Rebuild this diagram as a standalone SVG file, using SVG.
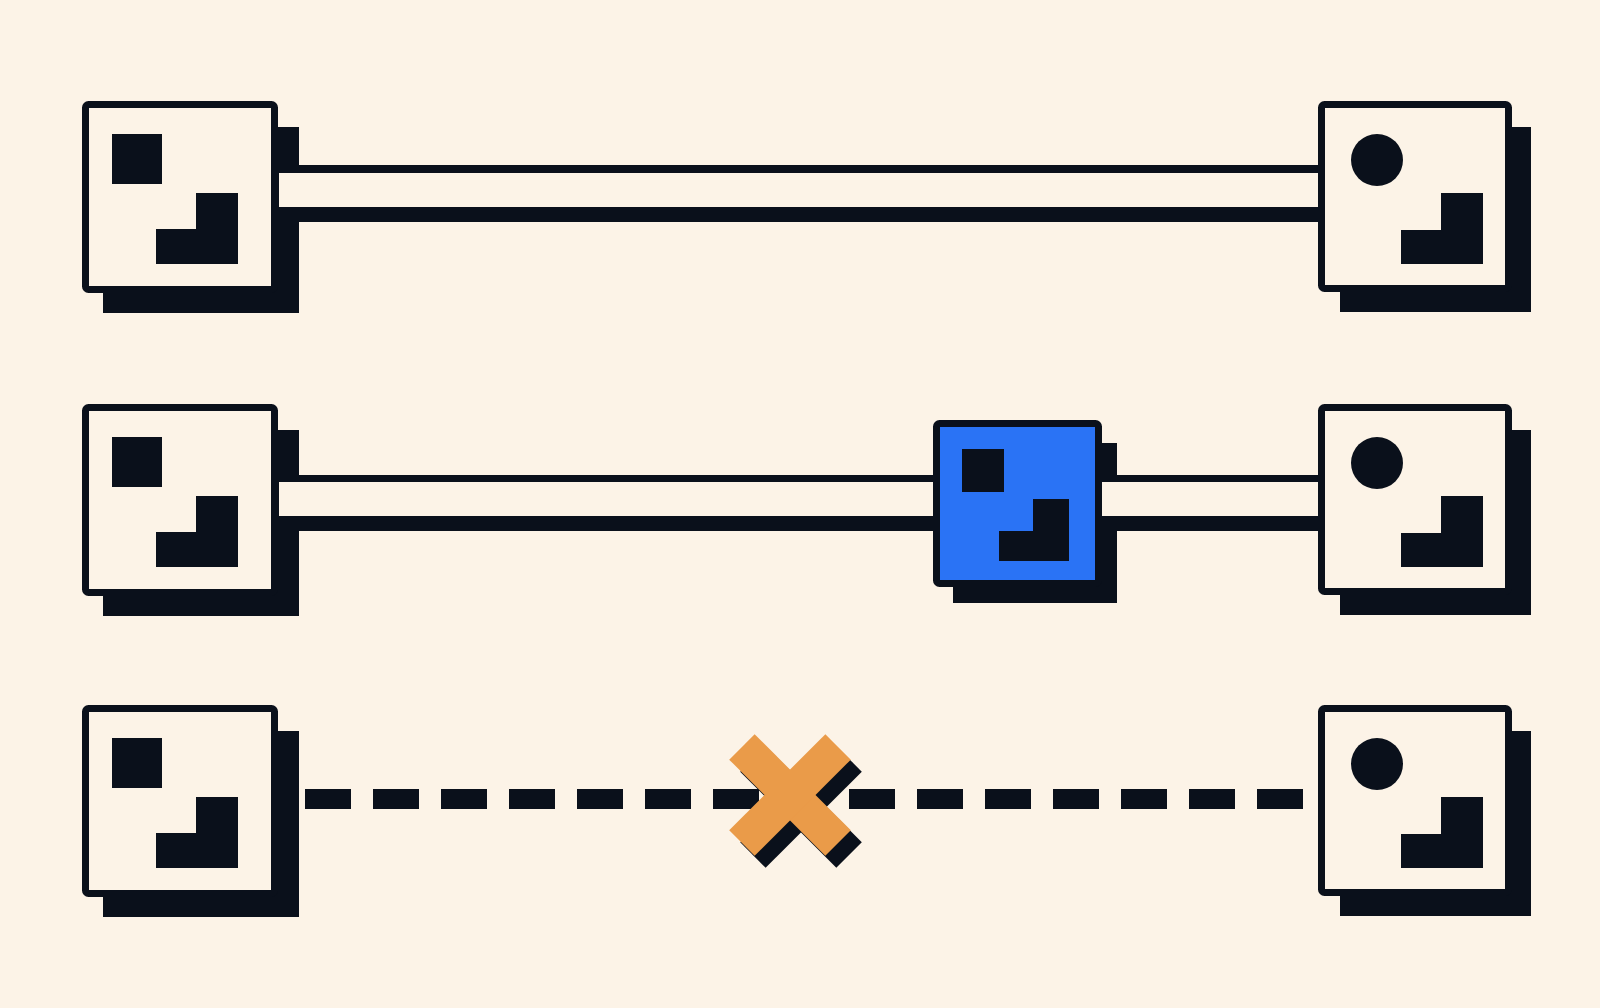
<svg xmlns="http://www.w3.org/2000/svg" width="1600" height="1008" viewBox="0 0 1600 1008">
<style>
.ink{fill:#0A101B}
.box{fill:#FCF3E7;stroke:#0A101B;stroke-width:7}
.blue{fill:#2A73F5;stroke:#0A101B;stroke-width:7}
.tube{fill:#FCF3E7}
.dash{stroke:#0A101B;stroke-width:20;stroke-dasharray:46 22;fill:none}
.cross{fill:#EA9B49}
</style>
<defs>
<g id="leftNode">
<rect class="ink" x="103" y="127" width="196" height="186"/>
<rect class="box" x="85.5" y="104.5" width="189" height="185" rx="3"/>
<rect class="ink" x="112" y="134" width="50" height="50"/>
<path class="ink" d="M196 193H238V264H156V229H196Z"/>
</g>
<g id="rightNode">
<rect class="ink" x="1340" y="127" width="191" height="185"/>
<rect class="box" x="1321.5" y="104.5" width="187" height="184" rx="3"/>
<circle class="ink" cx="1377" cy="160" r="26"/>
<path class="ink" d="M1441 193H1483V264H1401V230H1441Z"/>
</g>
</defs>
<rect width="1600" height="1008" fill="#FCF3E7"/>
<g id="node-a1"><use href="#leftNode"/></g>
<g id="node-b1"><use href="#rightNode"/></g>
<g id="node-a2" transform="translate(0 303)"><use href="#leftNode"/></g>
<g id="node-b2" transform="translate(0 303)"><use href="#rightNode"/></g>
<g id="node-a3" transform="translate(0 604)"><use href="#leftNode"/></g>
<g id="node-b3" transform="translate(0 604)"><use href="#rightNode"/></g>
<g id="node-mid">
<rect class="ink" x="953" y="443" width="164" height="160"/>
<rect class="blue" x="936.5" y="423.5" width="162" height="160" rx="3"/>
<rect class="ink" x="962" y="449" width="42" height="43"/>
<path class="ink" d="M1033 499H1069V561H999V531H1033Z"/>
</g>
<g id="connectors">
<rect class="ink" x="279" y="165" width="1039" height="57"/>
<rect class="tube" x="279" y="173" width="1039" height="34"/>
<rect class="ink" x="279" y="475" width="654" height="56"/>
<rect class="tube" x="279" y="482" width="654" height="34"/>
<rect class="ink" x="1102" y="475" width="216" height="56"/>
<rect class="tube" x="1102" y="482" width="216" height="34"/>
<line class="dash" x1="305" y1="799" x2="1303" y2="799"/>
</g>
<g id="break-mark">
<g transform="translate(801 807) rotate(45)" class="ink">
<rect x="-68" y="-18" width="136" height="36"/>
<rect x="-18" y="-68" width="36" height="136"/>
</g>
<g transform="translate(790 795) rotate(45)" class="cross">
<rect x="-68" y="-18" width="136" height="36"/>
<rect x="-18" y="-68" width="36" height="136"/>
</g>
</g>
</svg>
